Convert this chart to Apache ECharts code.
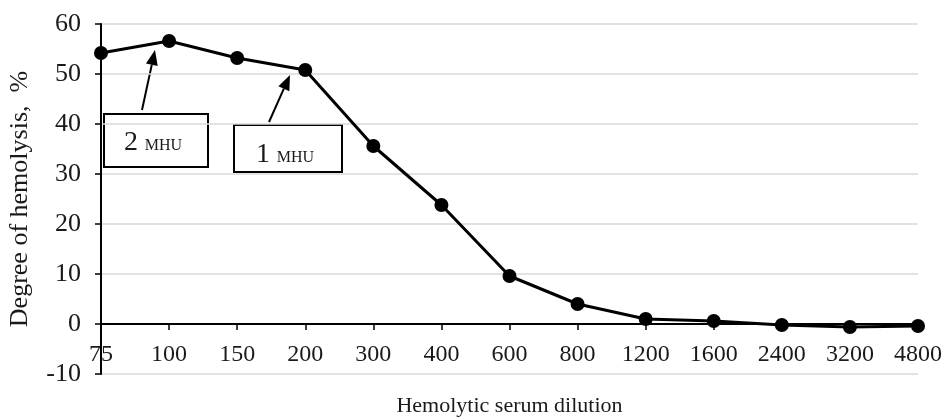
<!DOCTYPE html>
<html>
<head>
<meta charset="utf-8">
<script src="https://cdn.jsdelivr.net/npm/echarts@6/dist/echarts.min.js"></script>
<style>
  html, body { margin: 0; padding: 0; background: #fff; }
  #main { width: 944px; height: 419px; }
</style>
</head>
<body>
<div id="main"></div>
<script>
var dilutions = ['75', '100', '150', '200', '300', '400', '600', '800', '1200', '1600', '2400', '3200', '4800'];
var hemolysis = [54.2, 56.6, 53.2, 50.8, 35.6, 23.8, 9.6, 4.0, 1.0, 0.6, -0.2, -0.6, -0.4];
var yTicks = { min: -10, max: 60, step: 10 };

var serif = '"Liberation Serif", "DejaVu Serif", serif';
var ink = '#1a1a1a';

// arrow from tail (x1,y1) to tip (x2,y2)
function arrow(x1, y1, x2, y2) {
    var dx = x2 - x1, dy = y2 - y1;
    var len = Math.sqrt(dx * dx + dy * dy);
    var ux = dx / len, uy = dy / len;
    var hl = 15, hw = 6;
    var bx = x2 - ux * hl, by = y2 - uy * hl;
    return {
        type: 'group',
        children: [{
            type: 'line',
            shape: { x1: x1, y1: y1, x2: bx, y2: by },
            style: { stroke: '#000', lineWidth: 2 }
        }, {
            type: 'polygon',
            shape: { points: [[x2, y2], [bx - uy * hw, by + ux * hw], [bx + uy * hw, by - ux * hw]] },
            style: { fill: '#000' }
        }]
    };
}

function box(x, y, w, h, num, dy) {
    return {
        type: 'group',
        children: [{
            type: 'rect',
            shape: { x: x, y: y, width: w, height: h },
            style: { fill: '#fff', stroke: '#000', lineWidth: 2 }
        }, {
            type: 'text',
            x: x + w / 2 - 3,
            y: y + h / 2 + dy,
            style: {
                text: '{n|' + num + '}  {s|MHU}',
                align: 'center',
                verticalAlign: 'middle',
                rich: {
                    n: { fontFamily: serif, fontSize: 28, fill: ink },
                    s: { fontFamily: serif, fontSize: 16, fill: ink, padding: [6, 0, 0, 0] }
                }
            }
        }]
    };
}

var myChart = echarts.init(document.getElementById('main'));

var option = {
    backgroundColor: '#fff',
    animation: false,
    grid: { left: 101, right: 26, top: 24, bottom: 45, containLabel: false, outerBoundsMode: 'none' },
    xAxis: {
        type: 'category',
        data: dilutions,
        boundaryGap: false,
        name: 'Hemolytic serum dilution',
        nameLocation: 'middle',
        nameGap: 21,
        nameTextStyle: { fontFamily: serif, fontSize: 22, color: ink },
        axisLine: { onZero: true, lineStyle: { color: '#000', width: 2 } },
        axisTick: { show: true, length: 6, alignWithLabel: true, lineStyle: { color: '#000', width: 1.5 } },
        axisLabel: { fontFamily: serif, fontSize: 24, color: ink, margin: -31, interval: 0 },
        splitLine: { show: false }
    },
    yAxis: {
        type: 'value',
        min: yTicks.min,
        max: yTicks.max,
        interval: yTicks.step,
        name: 'Degree of hemolysis,  %',
        nameLocation: 'middle',
        nameGap: 68,
        nameTextStyle: { fontFamily: serif, fontSize: 26, color: ink },
        axisLine: { show: true, lineStyle: { color: '#000', width: 2 } },
        axisTick: { show: true, length: 6, lineStyle: { color: '#000', width: 1.5 } },
        axisLabel: { fontFamily: serif, fontSize: 26, color: ink, margin: 20 },
        splitLine: { show: true, lineStyle: { color: '#d9d9d9', width: 1.5 } }
    },
    series: [{
        type: 'line',
        data: hemolysis,
        symbol: 'circle',
        symbolSize: 14,
        itemStyle: { color: '#000' },
        lineStyle: { color: '#000', width: 3 },
        z: 3
    }],
    graphic: [
        arrow(142, 110, 155, 50),
        arrow(269, 122, 290, 75),
        box(104, 114, 104, 53, '2', 2),
        box(234, 125, 108, 47, '1', 6)
    ]
};

myChart.setOption(option);
</script>
</body>
</html>
